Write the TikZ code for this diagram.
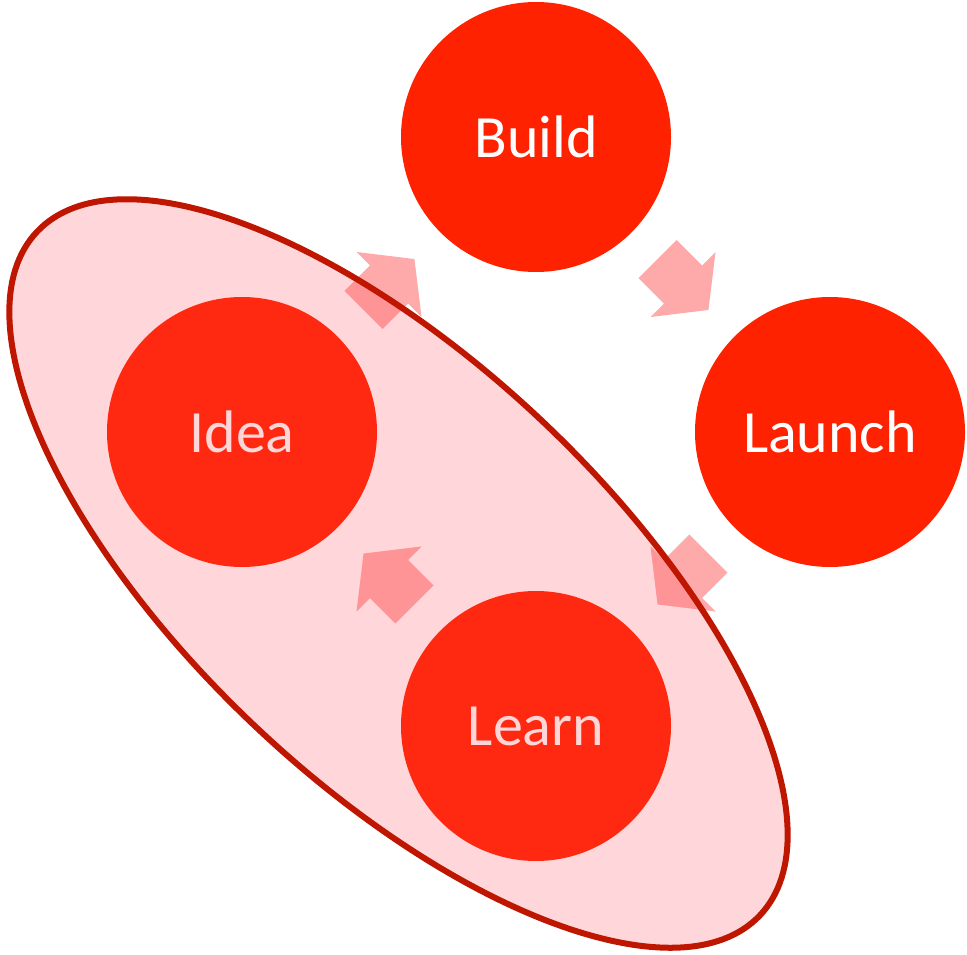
\documentclass[tikz,border=0pt]{standalone}
\usepackage{fontspec}
\setmainfont{Carlito}
\usetikzlibrary{calc}
\definecolor{circ}{RGB}{255,34,0}
\definecolor{arr}{RGB}{255,170,170}
\definecolor{ellline}{RGB}{190,22,0}
\definecolor{ellfill}{RGB}{255,70,80}
\tikzset{
  stage/.style={circle, fill=circ, minimum size=270pt, inner sep=0pt, text=white,
    font=\fontsize{60}{62}\selectfont},
  cyclearrow/.pic={\fill[arr] (-36,-27) -- (0,-27) -- (0,-46) -- (36,0) -- (0,46) -- (0,27) -- (-36,27) -- cycle;},
  group/.style={draw=ellline, line width=6pt, fill=ellfill, fill opacity=0.22}
}
\begin{document}
\begin{tikzpicture}[x=1pt,y=-1pt]
\useasboundingbox (0,0) rectangle (967,955);
\node[stage] (build) at (536,137) {Build};
\node[stage] (launch) at (830,432) {Launch};
\node[stage] (learn) at (536,726) {Learn};
\node[stage] (idea) at (242,432) {Idea};
\pic[rotate=45] at ($(idea)!0.5!(build)$) {cyclearrow};
\pic[rotate=-45] at ($(build)!0.5!(launch)$) {cyclearrow};
\pic[rotate=-135] at ($(launch)!0.5!(learn)$) {cyclearrow};
\pic[rotate=135] at ($(learn)!0.5!(idea)$) {cyclearrow};
\draw[group] (398.5,573.5) ellipse [x radius=497.5, y radius=209.5, rotate=-43.4];
\end{tikzpicture}
\end{document}
